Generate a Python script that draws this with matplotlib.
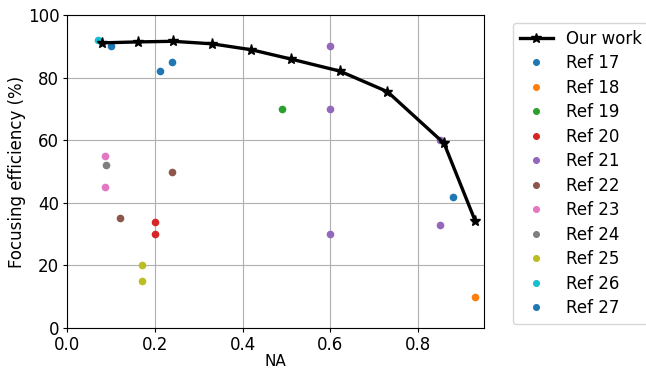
import matplotlib
matplotlib.use("Agg")
import matplotlib.pyplot as plt

ours_na = [0.080, 0.161, 0.241, 0.330, 0.420, 0.511, 0.621, 0.730, 0.859, 0.930]
ours_eff = [91.1, 91.4, 91.6, 90.8, 88.9, 85.9, 82.1, 75.5, 59.0, 34.2]

refs = {
    "Ref 17": ([0.101, 0.211, 0.240], [90.1, 82.0, 84.9]),
    "Ref 18": ([0.930], [10.0]),
    "Ref 19": ([0.490], [70.0]),
    "Ref 20": ([0.200, 0.200], [34.0, 30.0]),
    "Ref 21": ([0.600, 0.600, 0.600, 0.850, 0.850], [90.0, 70.0, 30.0, 60.0, 33.0]),
    "Ref 22": ([0.120, 0.240], [35.0, 50.0]),
    "Ref 23": ([0.086, 0.086], [55.0, 45.0]),
    "Ref 24": ([0.089], [52.0]),
    "Ref 25": ([0.170, 0.170], [20.0, 15.0]),
    "Ref 26": ([0.070], [92.0]),
    "Ref 27": ([0.879], [42.0]),
}

plt.rcParams['font.size'] = 12
plt.rcParams['xtick.major.pad'] = 2.5
plt.rcParams['ytick.major.pad'] = 2.5
plt.rcParams['xtick.major.size'] = 3
plt.rcParams['ytick.major.size'] = 3
fig = plt.figure(figsize=(6.46, 3.69), dpi=100)
ax = fig.add_axes([67/646, 1-328/369, (484-67)/646, (328-15)/369])

ax.plot(ours_na, ours_eff, color='black', marker='*', linewidth=2.4,
        markersize=8, label='Our work', zorder=3)
colors = plt.rcParams['axes.prop_cycle'].by_key()['color']
for i, (name, (xs, ys)) in enumerate(refs.items()):
    ax.plot(xs, ys, linestyle='none', marker='o', markersize=4.5,
            color=colors[i % len(colors)], label=name, zorder=2)

ax.set_xlim(0, 0.95)
ax.set_ylim(0, 100)
ax.set_xticks([0.0, 0.2, 0.4, 0.6, 0.8])
ax.set_yticks([0, 20, 40, 60, 80, 100])
ax.grid(True, color='#b0b0b0', linewidth=0.8)
ax.set_axisbelow(True)
ax.set_xlabel('NA', labelpad=0, fontsize=11)
ax.set_ylabel('Focusing efficiency (%)', labelpad=1)
leg = ax.legend(loc='upper left', bbox_to_anchor=(513/646, 1-23/369),
                bbox_transform=fig.transFigure, borderaxespad=0,
                handlelength=2.0, labelspacing=0.39, markerscale=0.9)

fig.savefig('out.png', dpi=100)
